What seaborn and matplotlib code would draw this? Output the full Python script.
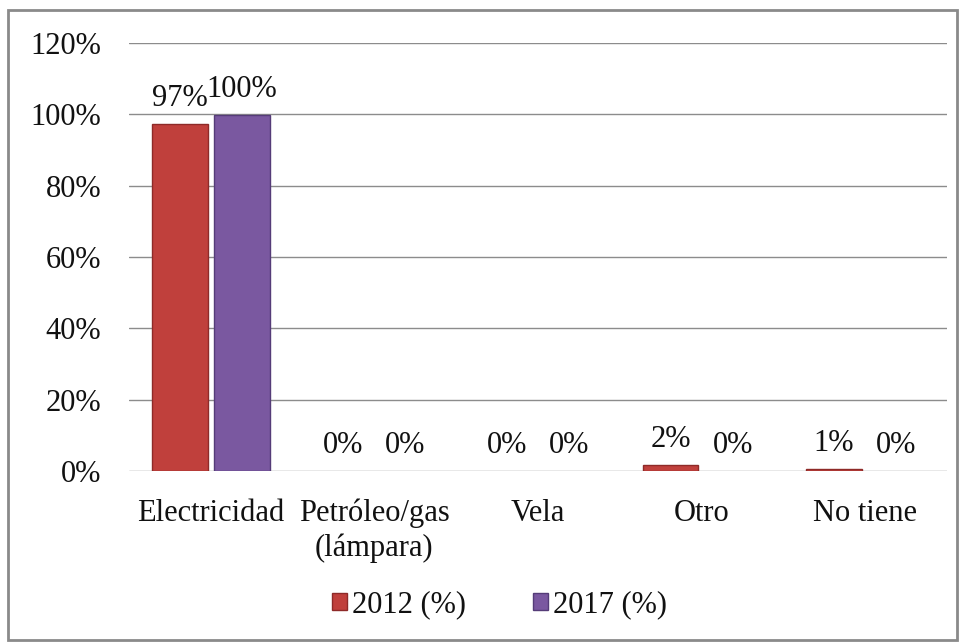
import matplotlib.pyplot as plt
import matplotlib.patches as mpatches
import pandas as pd
import seaborn as sns

categories = ["Electricidad", "Petróleo/gas\n(lámpara)", "Vela", "Otro", "No tiene"]
series = ["2012 (%)", "2017 (%)"]
vals_2012 = [97.3, 0.0, 0.0, 1.7, 0.6]
vals_2017 = [99.8, 0.0, 0.0, 0.0, 0.0]
colors = ["#C0403C", "#7A58A0"]
edges = ["#8E2A28", "#553C78"]

df = pd.DataFrame({
    "cat": categories * 2,
    "serie": [series[0]] * 5 + [series[1]] * 5,
    "val": vals_2012 + vals_2017,
})

sns.set_theme(style="white")
plt.rcParams["font.family"] = ["Liberation Serif", "DejaVu Serif"]
FS = 22

fig = plt.figure(figsize=(9.6, 6.42), dpi=100)
ax = fig.add_axes([129 / 960, 1 - 471 / 642, 818 / 960, 428 / 642])

sns.barplot(data=df, x="cat", y="val", hue="serie", palette=colors,
            width=0.76, gap=0.1, ax=ax, legend=False, saturation=1)

for container, ec in zip(ax.containers, edges):
    for bar in container:
        bar.set_edgecolor(ec)
        bar.set_linewidth(1.0 if bar.get_height() > 0 else 0)
    ax.bar_label(container, labels=[f"{v:.0f}%" for v in container.datavalues],
                 padding=8, fontsize=FS, color="#111111")

ax.set_ylim(0, 120)
ax.set_yticks(range(0, 121, 20))
ax.set_yticklabels([f"{t}%" for t in range(0, 121, 20)], fontsize=FS)
ax.tick_params(axis="y", pad=20, length=0, labelcolor="#111111")
ax.tick_params(axis="x", labelsize=FS, pad=20, length=0, labelcolor="#111111")
for lbl in ax.get_xticklabels():
    lbl.set_linespacing(1.25)
ax.set_xlabel("")
ax.set_ylabel("")
ax.yaxis.grid(True, color="#8c8c8c", linewidth=1)
ax.set_axisbelow(True)
for s in ax.spines.values():
    s.set_visible(False)

handles = [mpatches.Patch(facecolor=c, edgecolor=e, label=l) for c, e, l in zip(colors, edges, series)]
fig.legend(handles=handles, loc="center", bbox_to_anchor=(0.52, 1 - 605 / 642), ncol=2,
           frameon=False, fontsize=FS, handlelength=0.5, handleheight=0.5,
           handletextpad=0.15, columnspacing=2.2, labelcolor="#111111")

fig.add_artist(mpatches.Rectangle((8 / 960, 2 / 642), 949 / 960, 630 / 642,
                                  transform=fig.transFigure, fill=False,
                                  edgecolor="#8a8a8a", linewidth=2))

fig.savefig("out.png", dpi=100)
